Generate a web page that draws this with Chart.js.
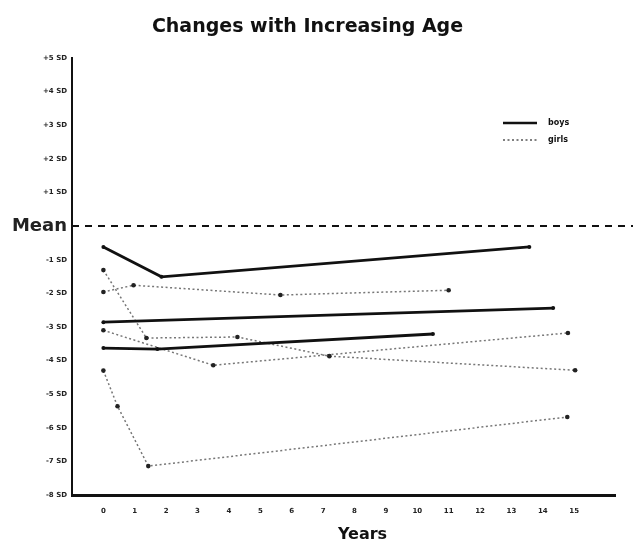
<!DOCTYPE html>
<html>
<head>
<meta charset="utf-8">
<script src="https://cdn.jsdelivr.net/npm/chart.js@4.4.1/dist/chart.umd.min.js"></script>
<style>
  html, body { margin: 0; padding: 0; background: #fff; }
  #wrap { width: 633px; height: 545px; position: relative; }
</style>
</head>
<body>
<div id="wrap"><canvas id="ageChart"></canvas></div>
<script>
// Ages (years) and SD scores
const BOY1_AGE = [0, 1.85, 13.57];
const BOY1_SD  = [-0.62, -1.51, -0.62];
const BOY2_AGE = [0, 14.33];
const BOY2_SD  = [-2.86, -2.44];
const BOY3_AGE = [0, 1.72, 10.5];
const BOY3_SD  = [-3.63, -3.66, -3.21];

const GIRL1_AGE = [0, 0.96, 5.64, 11.0];
const GIRL1_SD  = [-1.96, -1.76, -2.05, -1.91];
const GIRL2_AGE = [0, 1.37, 4.27, 7.2, 15.03];
const GIRL2_SD  = [-1.31, -3.33, -3.3, -3.87, -4.29];
const GIRL3_AGE = [0, 3.5, 14.8];
const GIRL3_SD  = [-3.1, -4.14, -3.18];
const GIRL4_AGE = [0, 0.45, 1.43, 14.78];
const GIRL4_SD  = [-4.3, -5.36, -7.14, -5.68];

const X_TICKS = [0, 1, 2, 3, 4, 5, 6, 7, 8, 9, 10, 11, 12, 13, 14, 15];
const Y_TICKS = [5, 4, 3, 2, 1, 0, -1, -2, -3, -4, -5, -6, -7, -8];

const toPoints = (ages, sds) => ages.map((a, i) => ({ x: a, y: sds[i] }));

const boyStyle = {
  borderColor: '#111',
  backgroundColor: '#111',
  borderWidth: 2.8,
  pointRadius: 2,
  pointBorderWidth: 0
};
const girlStyle = {
  borderColor: '#777',
  backgroundColor: '#222',
  borderWidth: 1.5,
  borderDash: [2, 2.5],
  pointRadius: 2.3,
  pointBorderWidth: 0
};

// Small legend in the top right corner, and the "Years" caption a bit right of centre
const sexLegend = {
  id: 'sexLegend',
  afterDatasetsDraw(chart) {
    const ctx = chart.ctx;
    ctx.save();
    ctx.strokeStyle = '#111';
    ctx.lineWidth = 2.5;
    ctx.beginPath();
    ctx.moveTo(503, 123);
    ctx.lineTo(537, 123);
    ctx.stroke();
    ctx.strokeStyle = '#555';
    ctx.lineWidth = 1.6;
    ctx.setLineDash([2, 2.5]);
    ctx.beginPath();
    ctx.moveTo(503, 140);
    ctx.lineTo(537, 140);
    ctx.stroke();
    ctx.setLineDash([]);
    ctx.fillStyle = '#111';
    ctx.font = 'bold 8px "DejaVu Sans"';
    ctx.textBaseline = 'middle';
    ctx.fillText('boys', 548, 123);
    ctx.fillText('girls', 548, 140);

    ctx.font = 'bold 16px "DejaVu Sans"';
    ctx.textAlign = 'center';
    ctx.fillText('Years', (chart.chartArea.left + chart.chartArea.right) / 2 + 19, 535);
    ctx.restore();
  }
};

document.addEventListener('DOMContentLoaded', () => {
  const ctx = document.getElementById('ageChart').getContext('2d');

  new Chart(ctx, {
    type: 'line',
    data: {
      datasets: [
        {
          label: 'Mean',
          data: [{ x: -1, y: 0 }, { x: 18, y: 0 }],
          borderColor: '#111',
          borderWidth: 2,
          borderDash: [7, 6],
          pointRadius: 0,
          clip: false
        },
        { label: 'boys', data: toPoints(BOY1_AGE, BOY1_SD), ...boyStyle },
        { label: 'boys', data: toPoints(BOY2_AGE, BOY2_SD), ...boyStyle },
        { label: 'boys', data: toPoints(BOY3_AGE, BOY3_SD), ...boyStyle },
        { label: 'girls', data: toPoints(GIRL1_AGE, GIRL1_SD), ...girlStyle },
        { label: 'girls', data: toPoints(GIRL2_AGE, GIRL2_SD), ...girlStyle },
        { label: 'girls', data: toPoints(GIRL3_AGE, GIRL3_SD), ...girlStyle },
        { label: 'girls', data: toPoints(GIRL4_AGE, GIRL4_SD), ...girlStyle }
      ]
    },
    options: {
      responsive: true,
      maintainAspectRatio: false,
      animation: false,
      layout: {
        padding: { left: 0, right: 18, top: 0, bottom: 0 }
      },
      plugins: {
        legend: { display: false },
        tooltip: { enabled: false },
        title: {
          display: true,
          text: 'Changes with Increasing Age',
          color: '#111',
          font: { family: 'DejaVu Sans', size: 19, weight: 'bold' },
          padding: { top: 15.6, bottom: 19.6 }
        }
      },
      scales: {
        x: {
          type: 'linear',
          min: -1,
          max: 16.3,
          afterBuildTicks: scale => {
            scale.ticks = X_TICKS.map(v => ({ value: v }));
          },
          afterFit: scale => {
            scale.height = 50;
          },
          grid: { display: false, drawTicks: false },
          border: { display: true, color: '#111', width: 3 },
          ticks: {
            padding: 12,
            color: '#222',
            autoSkip: false,
            maxRotation: 0,
            font: { family: 'DejaVu Sans', size: 7, weight: 'bold' }
          }
        },
        y: {
          min: -8,
          max: 5,
          afterBuildTicks: scale => {
            scale.ticks = Y_TICKS.map(v => ({ value: v }));
          },
          afterFit: scale => {
            scale.width = 72;
          },
          grid: { display: false, drawTicks: false },
          border: { display: true, color: '#111', width: 2 },
          ticks: {
            padding: 5,
            color: '#222',
            callback: v => (v === 0 ? 'Mean' : (v > 0 ? '+' : '') + v + ' SD'),
            font: c => (c.tick && c.tick.value === 0
              ? { family: 'DejaVu Sans', size: 18, weight: 'bold' }
              : { family: 'DejaVu Sans', size: 7, weight: 'bold' })
          }
        }
      }
    },
    plugins: [sexLegend]
  });
});
</script>
</body>
</html>
